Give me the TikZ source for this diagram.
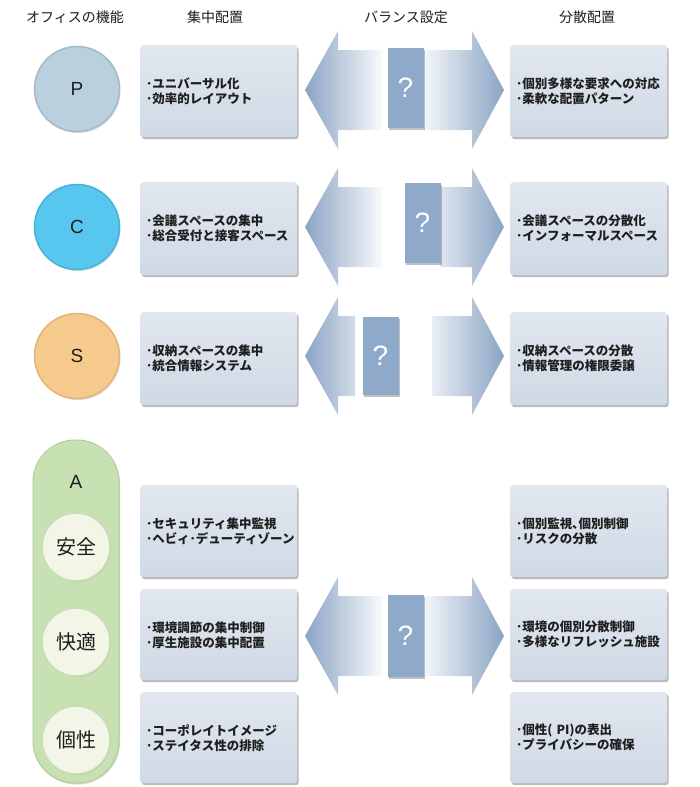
\documentclass[tikz,border=0pt]{standalone}
\usepackage{fontspec}
\setmainfont{Noto Sans CJK JP}
\newfontfamily\latinfont{Liberation Sans}
\usetikzlibrary{shadows}
\definecolor{boxtop}{HTML}{E1E7EF}
\definecolor{boxbot}{HTML}{CFD9E5}
\definecolor{arrowblue}{HTML}{8AA4C4}
\definecolor{qblue}{HTML}{8EA9C9}
\definecolor{pcol}{HTML}{BAD0DF}
\definecolor{pedge}{HTML}{A3BACB}
\definecolor{ccol}{HTML}{58C7F0}
\definecolor{cedge}{HTML}{45B2DB}
\definecolor{scol}{HTML}{F6C98C}
\definecolor{sedge}{HTML}{E6B476}
\definecolor{pillfill}{HTML}{C7E1B3}
\definecolor{pilledge}{HTML}{AFD098}
\definecolor{innerfill}{HTML}{F3F5E7}
\definecolor{inneredge}{HTML}{C9DDB9}
\definecolor{txt}{HTML}{1E1E1E}
\newcommand\leftarr[2]{%
  \begin{scope}
    \clip (#2,#1-40) -- (338,#1-40) -- (338,#1-59) -- (305,#1) -- (338,#1+59) -- (338,#1+40) -- (#2,#1+40) -- cycle;
    \shade[left color=arrowblue, right color=white] (305,#1-60) rectangle (386,#1+60);
  \end{scope}}
\newcommand\rightarr[2]{%
  \begin{scope}
    \clip (#2,#1-40) -- (472,#1-40) -- (472,#1-59) -- (504,#1) -- (472,#1+59) -- (472,#1+40) -- (#2,#1+40) -- cycle;
    \shade[left color=white, right color=arrowblue] (416,#1-60) rectangle (504,#1+60);
  \end{scope}}
\begin{document}
\begin{tikzpicture}[x=1pt,y=-1pt,
  header/.style={font=\fontsize{14}{16}\selectfont, text=txt},
  infobox/.style={rectangle, rounded corners=3pt, top color=boxtop, bottom color=boxbot,
    drop shadow={shadow xshift=1.5pt, shadow yshift=-2pt, opacity=.45, fill=black!60},
    minimum width=157pt, text width=145pt, inner xsep=6pt, align=left,
    font=\bfseries\fontsize{12.5}{15}\selectfont, text=txt, anchor=north west},
  qbox/.style={rectangle, fill=qblue, minimum width=36pt, text=white,
    font=\latinfont\fontsize{28}{28}\selectfont,
    drop shadow={shadow xshift=1pt, shadow yshift=-1.5pt, opacity=.4, fill=black!60}},
  func/.style={circle, minimum size=85pt, inner sep=0pt, line width=1.5pt,
    font=\latinfont\fontsize{19}{19}\selectfont, text=txt,
    drop shadow={shadow xshift=1pt, shadow yshift=-1.5pt, opacity=.25, fill=black!60}},
  sub/.style={circle, minimum size=68pt, inner sep=0pt, fill=innerfill, draw=inneredge, line width=1.5pt,
    font=\fontsize{20}{20}\selectfont, text=txt,
    drop shadow={shadow xshift=.8pt, shadow yshift=-1pt, opacity=.2, fill=black!60}}]
\useasboundingbox (0,0) rectangle (700,787);
\fill[white] (0,0) rectangle (700,787);

% headers
\node[header] (h1) at (75,17) {オフィスの機能};
\node[header] (h2) at (215,17) {集中配置};
\node[header] (h3) at (406,17) {バランス設定};
\node[header] (h4) at (587,17) {分散配置};

% balance arrows
\leftarr{90}{382}  \rightarr{90}{424}
\leftarr{227}{382} \rightarr{227}{440}
\leftarr{356}{355} \rightarr{356}{432}
\leftarr{636}{382} \rightarr{636}{424}

\node[qbox, minimum height=80pt] (pq) at (405.5,88) {?};
\node[qbox, minimum height=80pt] (cq) at (422.5,223) {?};
\node[qbox, minimum height=78pt] (sq) at (380.5,356) {?};
\node[qbox, minimum height=82pt] (aq) at (405.5,636) {?};

% function circles
\node[func, fill=pcol, draw=pedge] (p) at (77,89) {P};
\node[func, fill=ccol, draw=cedge] (c) at (77,227) {C};
\node[func, fill=scol, draw=sedge] (s) at (77,356) {S};

% A pill
\draw[fill=pillfill, draw=pilledge, line width=1pt, rounded corners=42pt,
  drop shadow={shadow xshift=1pt, shadow yshift=-1.5pt, opacity=.25, fill=black!60}]
  (33,440) rectangle (119,783);
\node[font=\latinfont\fontsize{19}{19}\selectfont, text=txt] (a) at (76,482) {A};
\node[sub] (a1) at (76,547) {安全};
\node[sub] (a2) at (76,642) {快適};
\node[sub] (a3) at (76,740) {個性};

% centralized boxes
\node[infobox, minimum height=92pt] (pl) at (140,45) {･ユニバーサル化\\･効率的レイアウト};
\node[infobox, minimum height=93pt] (cl) at (140,182) {･会議スペースの集中\\･総合受付と接客スペース};
\node[infobox, minimum height=93pt] (sl) at (140,312) {･収納スペースの集中\\･統合情報システム};
\node[infobox, minimum height=92pt] (a1l) at (140,485) {･セキュリティ集中監視\\･ヘビィ･デューティゾーン};
\node[infobox, minimum height=91pt] (a2l) at (140,589) {･環境調節の集中制御\\･厚生施設の集中配置};
\node[infobox, minimum height=91pt] (a3l) at (140,692) {･コーポレイトイメージ\\･ステイタス性の排除};

% distributed boxes
\node[infobox, minimum height=92pt] (pr) at (510,45) {･個別多様な要求への対応\\･柔軟な配置パターン};
\node[infobox, minimum height=93pt] (cr) at (510,182) {･会議スペースの分散化\\･インフォーマルスペース};
\node[infobox, minimum height=93pt] (sr) at (510,312) {･収納スペースの分散\\･情報管理の権限委譲};
\node[infobox, minimum height=92pt] (a1r) at (510,485) {･個別監視､個別制御\\･リスクの分散};
\node[infobox, minimum height=91pt] (a2r) at (510,589) {･環境の個別分散制御\\･多様なリフレッシュ施設};
\node[infobox, minimum height=91pt] (a3r) at (510,692) {･個性( PI)の表出\\･プライバシーの確保};
\end{tikzpicture}
\end{document}
